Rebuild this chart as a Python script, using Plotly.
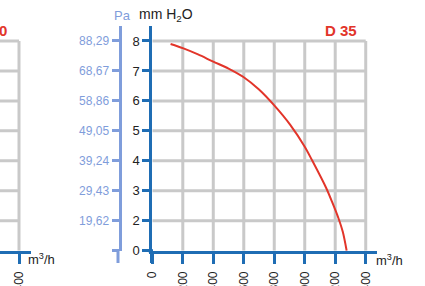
import plotly.graph_objects as go

W, H = 425, 286
OFF = 0  # body margin removed by the post script below

# ---- data ----
flow = [120, 200, 300, 400, 500, 600, 700, 800, 905, 1000, 1050, 1140, 1180, 1220, 1250, 1275]
# pressure in axis position units (tick "0" sits at position 1, "2" at 2 ... "8" at 8)
pressure = [7.9, 7.76, 7.55, 7.31, 7.08, 6.79, 6.38, 5.85, 5.2, 4.47, 4.0, 3.1, 2.62, 2.1, 1.62, 1.0]
x_ticks = [0, 200, 400, 600, 800, 1000, 1200, 1400]
x_labels = ["0", "200", "400", "600", "800", "1000", "1200", "1400"]
y_pos = [1, 2, 3, 4, 5, 6, 7, 8]
y_labels = ["0", "2", "3", "4", "5", "6", "7", "8"]
pa_labels = ["", "19,62", "29,43", "39,24", "49,05", "58,86", "68,67", "88,29"]
left_ticks = [1400]
left_labels = ["1400"]

DARK = "#1f6db4"
LIGHT = "#7f9ddb"
GRID = "#c9c9c9"
RED = "#e2352a"
FONT = "Liberation Sans, Arial, sans-serif"


def px(x):
    return (x - OFF) / W


def py(y):
    return 1 - (y - OFF) / H


fig = go.Figure()
fig.add_trace(go.Scatter(x=flow, y=pressure, mode="lines",
                         line=dict(color=RED, width=2, shape="spline", smoothing=0.8),
                         hoverinfo="skip", showlegend=False, xaxis="x", yaxis="y"))
# invisible helper traces so the extra axes get drawn
fig.add_trace(go.Scatter(x=[1300], y=[1], mode="markers", marker=dict(opacity=0),
                         hoverinfo="skip", showlegend=False, xaxis="x2", yaxis="y2"))
fig.add_trace(go.Scatter(x=[0], y=[1], mode="markers", marker=dict(opacity=0),
                         hoverinfo="skip", showlegend=False, xaxis="x", yaxis="y3"))

shapes = []
# main grid
for v in y_pos[1:]:
    shapes.append(dict(type="line", xref="x", yref="y", x0=x_ticks[0], x1=x_ticks[-1], y0=v, y1=v,
                       line=dict(color=GRID, width=3), layer="below"))
for t in x_ticks[1:]:
    shapes.append(dict(type="line", xref="x", yref="y", x0=t, x1=t, y0=y_pos[0], y1=y_pos[-1],
                       line=dict(color=GRID, width=3), layer="below"))
# neighbour grid
for v in y_pos[1:]:
    shapes.append(dict(type="line", xref="x2", yref="y2", x0=1200, x1=left_ticks[0], y0=v, y1=v,
                       line=dict(color=GRID, width=3), layer="below"))
shapes.append(dict(type="line", xref="x2", yref="y2", x0=left_ticks[0], x1=left_ticks[0],
                   y0=y_pos[0], y1=y_pos[-1], line=dict(color=GRID, width=3), layer="below"))
# axis line stubs
shapes.append(dict(type="line", xref="paper", yref="paper", x0=px(151.5), x1=px(151.5),
                   y0=py(250), y1=py(263), line=dict(color=DARK, width=3)))
shapes.append(dict(type="line", xref="paper", yref="paper", x0=px(148), x1=px(153),
                   y0=py(250.7), y1=py(250.7), line=dict(color=DARK, width=3)))
shapes.append(dict(type="line", xref="paper", yref="paper", x0=px(118), x1=px(118),
                   y0=py(250), y1=py(263), line=dict(color=LIGHT, width=3)))

ydom = [py(250.7), py(26)]
axis_common = dict(showgrid=False, zeroline=False, fixedrange=True)

fig.update_layout(
    width=W, height=H,
    margin=dict(l=0, r=0, t=0, b=0, autoexpand=False),
    paper_bgcolor="white", plot_bgcolor="rgba(0,0,0,0)",
    font=dict(family=FONT, size=12, color="#222"),
    shapes=shapes,
    xaxis=dict(domain=[px(152.3), px(377)], range=[0, 1474], anchor="y",
               tickvals=x_ticks, ticktext=x_labels, tickangle=-90,
               ticks="outside", ticklen=10, tickwidth=3, tickcolor=DARK,
               showline=True, linewidth=3, linecolor=DARK, ticklabelstandoff=3,
               tickfont=dict(size=12, color="#222"), automargin=False, **axis_common),
    yaxis=dict(domain=ydom, range=[1, 8.5], anchor="x",
               tickvals=y_pos, ticktext=y_labels,
               ticks="outside", ticklen=7, tickwidth=3, tickcolor=DARK,
               showline=True, linewidth=3, linecolor=DARK,
               tickfont=dict(size=13, color="#222"), automargin=False, **axis_common),
    yaxis3=dict(domain=ydom, range=[1, 8.5], overlaying="y", anchor="free",
                position=px(119.5), side="left",
                tickvals=y_pos, ticktext=pa_labels,
                ticks="outside", ticklen=7, tickwidth=3, tickcolor=LIGHT,
                showline=True, linewidth=3, linecolor=LIGHT,
                tickfont=dict(size=12, color=LIGHT), automargin=False, **axis_common),
    xaxis2=dict(domain=[0, px(31)], range=[1400 - 19 / 0.1524, 1400 + 12 / 0.1524], anchor="y2",
                tickvals=left_ticks, ticktext=left_labels, tickangle=-90,
                ticks="outside", ticklen=10, tickwidth=3, tickcolor=DARK,
                showline=True, linewidth=3, linecolor=DARK, ticklabelstandoff=3,
                tickfont=dict(size=12, color="#222"), automargin=False, **axis_common),
    yaxis2=dict(domain=ydom, range=[1, 8.5], anchor="x2", visible=False, **axis_common),
    annotations=[
        dict(text="<b>D 35</b>", xref="paper", yref="paper", x=px(359), y=py(31),
             xanchor="right", yanchor="middle", showarrow=False,
             font=dict(size=15, color=RED)),
        dict(text="<b>0</b>", xref="paper", yref="paper", x=px(9), y=py(31),
             xanchor="right", yanchor="middle", showarrow=False,
             font=dict(size=15, color=RED)),
        dict(text="mm H<sub>2</sub>O", xref="paper", yref="paper", x=px(137), y=py(15),
             xanchor="left", yanchor="middle", showarrow=False,
             font=dict(size=14, color="#222")),
        dict(text="Pa", xref="paper", yref="paper", x=px(112), y=py(15),
             xanchor="left", yanchor="middle", showarrow=False,
             font=dict(size=13, color=LIGHT)),
        dict(text="m<sup>3</sup>/h", xref="paper", yref="paper", x=px(374), y=py(260),
             xanchor="left", yanchor="middle", showarrow=False,
             font=dict(size=13, color="#222")),
        dict(text="m<sup>3</sup>/h", xref="paper", yref="paper", x=px(26), y=py(259),
             xanchor="left", yanchor="middle", showarrow=False,
             font=dict(size=13, color="#222")),
    ],
)

fig.write_html("out.html", config=dict(displayModeBar=False, staticPlot=True),
               post_script="document.body.style.margin='0';")
